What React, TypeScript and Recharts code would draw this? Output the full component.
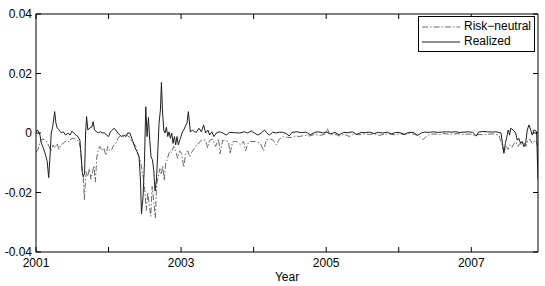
import { LineChart, Line, XAxis, YAxis } from 'recharts';

// [year, value] pairs
const realizedPoints: [number, number][] = [
  [2001.0, 0.0004], [2001.014, 0.001], [2001.028, 0.0008], [2001.055, -0.0007], [2001.073, -0.0034],
  [2001.1, -0.005], [2001.124, -0.0067], [2001.138, -0.008], [2001.155, -0.0097], [2001.175, -0.015],
  [2001.193, -0.008], [2001.21, 0.0], [2001.23, 0.002], [2001.257, 0.0072], [2001.275, 0.0033],
  [2001.293, 0.0017], [2001.32, 0.001], [2001.348, 0.0001], [2001.376, 0.0004], [2001.409, -0.0007],
  [2001.44, 0.0], [2001.468, -0.0007], [2001.495, 0.0006], [2001.523, 0.0], [2001.55, -0.0007],
  [2001.578, -0.0012], [2001.605, -0.0024], [2001.623, -0.008], [2001.637, -0.013], [2001.651, -0.0147],
  [2001.67, -0.0135], [2001.684, 0.0], [2001.697, 0.0055], [2001.715, 0.001], [2001.743, 0.0017],
  [2001.77, 0.002], [2001.788, 0.0038], [2001.807, 0.001], [2001.835, 0.0004], [2001.862, 0.0001],
  [2001.89, 0.0004], [2001.917, 0.0], [2001.945, 0.0001], [2001.972, -0.0007], [2002.0, -0.0012],
  [2002.027, 0.0004], [2002.055, 0.001], [2002.073, 0.0016], [2002.1, 0.001], [2002.128, 0.0],
  [2002.155, -0.0007], [2002.183, -0.0012], [2002.21, -0.0007], [2002.238, -0.0012], [2002.265, 0.0],
  [2002.293, 0.0], [2002.311, -0.0012], [2002.338, -0.003], [2002.366, -0.005], [2002.393, -0.0063],
  [2002.421, -0.008], [2002.44, -0.0158], [2002.454, -0.0272], [2002.476, -0.0214], [2002.495, -0.01],
  [2002.513, 0.0088], [2002.531, -0.0012], [2002.55, 0.0052], [2002.568, -0.0024], [2002.586, -0.008],
  [2002.605, -0.009], [2002.623, -0.0124], [2002.641, -0.0195], [2002.66, -0.0158], [2002.678, -0.0068],
  [2002.696, 0.0033], [2002.715, 0.0077], [2002.729, 0.017], [2002.743, 0.0077], [2002.761, 0.001],
  [2002.779, 0.0], [2002.798, 0.002], [2002.816, -0.0012], [2002.834, 0.0004], [2002.853, -0.0018],
  [2002.871, 0.0], [2002.889, -0.0035], [2002.908, -0.0012], [2002.926, -0.004], [2002.944, -0.0012],
  [2002.963, -0.004], [2002.981, -0.0024], [2002.999, -0.0012], [2003.018, 0.0004], [2003.036, 0.001],
  [2003.054, 0.002], [2003.081, 0.0033], [2003.1, 0.0072], [2003.128, 0.0003], [2003.155, 0.001],
  [2003.187, 0.0004], [2003.21, 0.0002], [2003.246, 0.0016], [2003.279, 0.0004], [2003.311, 0.0027],
  [2003.338, 0.0], [2003.37, 0.001], [2003.393, -0.0007], [2003.425, 0.0004], [2003.452, -0.0012],
  [2003.486, 0.0], [2003.531, 0.0004], [2003.568, 0.0001], [2003.623, -0.0007], [2003.668, 0.0002],
  [2003.737, 0.0001], [2003.806, 0.0], [2003.875, 0.0004], [2003.916, 0.0], [2003.967, 0.0007],
  [2004.012, 0.0], [2004.058, -0.0007], [2004.105, 0.0], [2004.15, 0.001], [2004.182, 0.0],
  [2004.219, -0.0007], [2004.264, 0.0003], [2004.311, 0.0], [2004.356, 0.0003], [2004.4, 0.0002],
  [2004.45, -0.0002], [2004.49, -0.001], [2004.53, 0.0002], [2004.6, 0.0004], [2004.66, 0.0001],
  [2004.72, 0.0003], [2004.78, -0.0006], [2004.84, 0.0002], [2004.9, 0.0004], [2004.96, 0.0],
  [2005.01, 0.0003], [2005.06, -0.0003], [2005.12, 0.0002], [2005.18, -0.0006], [2005.24, 0.0002],
  [2005.3, 0.0001], [2005.36, 0.0004], [2005.42, -0.0005], [2005.48, 0.0002], [2005.54, 0.0001],
  [2005.6, 0.0003], [2005.66, -0.0002], [2005.72, 0.0002], [2005.78, 0.0], [2005.84, 0.0003],
  [2005.9, -0.0003], [2005.96, 0.0002], [2006.02, 0.0001], [2006.08, -0.0004], [2006.14, 0.0002],
  [2006.2, 0.0002], [2006.26, -0.0008], [2006.31, 0.0], [2006.36, 0.0003], [2006.42, 0.0002],
  [2006.48, 0.0004], [2006.54, 0.0002], [2006.6, 0.0003], [2006.66, 0.0004], [2006.72, 0.0003],
  [2006.78, 0.0004], [2006.84, 0.0002], [2006.9, 0.0003], [2006.96, 0.0004], [2007.02, 0.0002],
  [2007.07, -0.0010], [2007.1, 0.0003], [2007.16, 0.0005], [2007.22, 0.0004], [2007.28, 0.0003],
  [2007.34, 0.0004], [2007.38, 0.0002], [2007.41, 0.0], [2007.43, -0.0035], [2007.45, -0.0068],
  [2007.47, -0.0035], [2007.488, -0.0016], [2007.51, 0.001], [2007.529, -0.0007], [2007.543, 0.0016],
  [2007.579, 0.001], [2007.612, 0.0], [2007.634, -0.0024], [2007.655, -0.0018], [2007.681, -0.0035],
  [2007.7, -0.0028], [2007.726, -0.0046], [2007.75, -0.0035], [2007.772, 0.001], [2007.795, 0.0027],
  [2007.82, 0.001], [2007.84, -0.0007], [2007.864, 0.001], [2007.9, 0.0005], [2007.92, -0.0155],
];

const riskNeutralPoints: [number, number][] = [
  [2001.0, -0.0065], [2001.028, -0.0055], [2001.055, -0.003], [2001.083, -0.002], [2001.124, -0.0022],
  [2001.151, -0.003], [2001.179, -0.0045], [2001.206, -0.006], [2001.234, -0.004], [2001.261, -0.005],
  [2001.289, -0.0035], [2001.316, -0.0055], [2001.344, -0.004], [2001.371, -0.0035], [2001.399, -0.003],
  [2001.426, -0.0025], [2001.454, -0.003], [2001.481, -0.002], [2001.509, -0.0018], [2001.536, -0.002],
  [2001.564, -0.0022], [2001.591, -0.003], [2001.612, -0.005], [2001.626, -0.009], [2001.64, -0.0135],
  [2001.653, -0.015], [2001.667, -0.0225], [2001.681, -0.016], [2001.695, -0.013], [2001.715, -0.0145],
  [2001.736, -0.012], [2001.757, -0.0155], [2001.777, -0.0135], [2001.798, -0.011], [2001.818, -0.0165],
  [2001.839, -0.008], [2001.86, -0.0055], [2001.88, -0.0045], [2001.908, -0.006], [2001.935, -0.005],
  [2001.963, -0.0075], [2001.99, -0.0045], [2002.018, -0.006], [2002.045, -0.0055], [2002.073, -0.004],
  [2002.1, -0.0035], [2002.128, -0.0018], [2002.155, -0.001], [2002.183, -0.0008], [2002.21, -0.0012],
  [2002.238, -0.0006], [2002.265, -0.001], [2002.293, -0.0015], [2002.32, -0.003], [2002.348, -0.0035],
  [2002.375, -0.0045], [2002.403, -0.007], [2002.431, -0.0085], [2002.458, -0.012], [2002.479, -0.015],
  [2002.499, -0.019], [2002.52, -0.026], [2002.541, -0.02], [2002.561, -0.024], [2002.582, -0.028],
  [2002.602, -0.018], [2002.623, -0.023], [2002.644, -0.0285], [2002.664, -0.017], [2002.685, -0.015],
  [2002.706, -0.012], [2002.726, -0.014], [2002.747, -0.011], [2002.768, -0.016], [2002.788, -0.01],
  [2002.809, -0.009], [2002.829, -0.007], [2002.85, -0.006], [2002.871, -0.0065], [2002.898, -0.0045],
  [2002.926, -0.006], [2002.953, -0.0085], [2002.981, -0.006], [2003.008, -0.007], [2003.036, -0.0115],
  [2003.063, -0.007], [2003.091, -0.006], [2003.118, -0.008], [2003.146, -0.0065], [2003.173, -0.0055],
  [2003.201, -0.0045], [2003.228, -0.004], [2003.256, -0.003], [2003.297, -0.0022], [2003.338, -0.0025],
  [2003.366, -0.005], [2003.393, -0.0025], [2003.435, -0.002], [2003.476, -0.0045], [2003.517, -0.002],
  [2003.538, -0.007], [2003.572, -0.0025], [2003.613, -0.0025], [2003.655, -0.003], [2003.675, -0.007],
  [2003.71, -0.003], [2003.765, -0.0028], [2003.82, -0.004], [2003.861, -0.0028], [2003.889, -0.006],
  [2003.93, -0.003], [2003.985, -0.0028], [2004.04, -0.003], [2004.095, -0.0035], [2004.136, -0.006],
  [2004.177, -0.0022], [2004.232, -0.002], [2004.274, -0.0025], [2004.315, -0.004], [2004.356, -0.002],
  [2004.411, -0.0012], [2004.466, -0.0015], [2004.521, -0.0015], [2004.576, -0.001], [2004.631, -0.0012],
  [2004.7, -0.0008], [2004.769, -0.001], [2004.838, -0.0005], [2004.906, -0.0008], [2004.975, -0.0005],
  [2005.017, 0.0015], [2005.044, -0.0005], [2005.113, -0.0003], [2005.182, -0.001], [2005.25, -0.0004],
  [2005.319, -0.0012], [2005.388, -0.0002], [2005.457, -0.0006], [2005.525, -0.0003], [2005.594, -0.0005],
  [2005.663, -0.0002], [2005.732, -0.0008], [2005.801, -0.0004], [2005.869, -0.0003], [2005.938, -0.0006],
  [2006.007, -0.0003], [2006.076, -0.0005], [2006.144, -0.0002], [2006.213, -0.0004], [2006.282, -0.001],
  [2006.337, -0.0022], [2006.392, -0.0008], [2006.447, -0.0004], [2006.502, -0.0003], [2006.557, -0.0005],
  [2006.626, -0.0002], [2006.695, -0.0004], [2006.763, -0.0003], [2006.832, -0.0002], [2006.901, -0.0005],
  [2006.97, -0.0003], [2007.039, -0.0008], [2007.107, -0.0005], [2007.176, -0.0006], [2007.245, -0.0004],
  [2007.314, -0.0003], [2007.382, -0.0008], [2007.424, -0.004], [2007.451, -0.0065], [2007.479, -0.0045],
  [2007.506, -0.0055], [2007.534, -0.004], [2007.561, -0.0048], [2007.589, -0.0035], [2007.616, -0.003],
  [2007.644, -0.0045], [2007.671, -0.0035], [2007.699, -0.004], [2007.726, -0.003], [2007.754, -0.0045],
  [2007.781, -0.0025], [2007.809, -0.002], [2007.836, -0.0035], [2007.864, -0.003], [2007.891, -0.0025],
  [2007.919, -0.0045],
];

const yearTicks = [2001, 2002, 2003, 2004, 2005, 2006, 2007];
const valueTicks = [-0.04, -0.02, 0, 0.02, 0.04];

const realized = realizedPoints.map(([t, v]) => ({ t, v }));
const riskNeutral = riskNeutralPoints.map(([t, v]) => ({ t, v }));

const FONT = '"Liberation Sans", Arial, Helvetica, sans-serif';
const RN_COLOR = '#6a6a6a';
const RL_COLOR = '#1e1e1e';
const RN_DASH = '6 2 1.5 2';

function fmtValue(v: number) {
  if (v === 0) return '0';
  return v.toFixed(2);
}

function LegendBox() {
  return (
    <div
      style={{
        position: 'absolute',
        left: 418,
        top: 16,
        border: '1px solid #000',
        background: '#fff',
        padding: '2px 3px 2px 2px',
        fontFamily: FONT,
        fontSize: 12,
        lineHeight: '15px',
        color: '#000',
      }}
    >
      {[
        { name: 'Risk\u2212neutral', color: RN_COLOR, dash: RN_DASH },
        { name: 'Realized', color: RL_COLOR, dash: undefined },
      ].map((it) => (
        <div key={it.name} style={{ display: 'flex', alignItems: 'center' }}>
          <svg width={40} height={10} style={{ marginRight: 3 }}>
            <line x1={1} y1={5} x2={39} y2={5} stroke={it.color} strokeWidth={1} strokeDasharray={it.dash} />
          </svg>
          <span>{it.name}</span>
        </div>
      ))}
    </div>
  );
}

export default function App() {
  return (
    <div style={{ position: 'absolute', left: 0, top: 0, width: 545, height: 286, background: '#fff' }}>
      <LineChart width={545} height={286} margin={{ top: 13, right: 6, bottom: 0, left: 0 }}>
        <XAxis
          xAxisId="b"
          type="number"
          dataKey="t"
          domain={[2001, 2007.92]}
          allowDataOverflow
          ticks={yearTicks}
          tickFormatter={(v: number) => (v % 2 === 1 ? String(v) : '')}
          tickSize={-5}
          tickMargin={11}
          height={34}
          stroke="#000"
          tick={{ fill: '#000', fontSize: 12, fontFamily: FONT }}
          label={{ value: 'Year', position: 'insideBottom', offset: 5, fill: '#000', fontSize: 12, fontFamily: FONT }}
        />
        <XAxis
          xAxisId="t"
          orientation="top"
          type="number"
          dataKey="t"
          domain={[2001, 2007.92]}
          allowDataOverflow
          ticks={yearTicks}
          tickFormatter={() => ''}
          tickSize={-5}
          height={1}
          stroke="#000"
        />
        <YAxis
          yAxisId="l"
          type="number"
          domain={[-0.04, 0.04]}
          allowDataOverflow
          ticks={valueTicks}
          tickFormatter={fmtValue}
          tickSize={-5}
          tickMargin={9}
          width={36}
          stroke="#000"
          tick={{ fill: '#000', fontSize: 12, fontFamily: FONT }}
        />
        <YAxis
          yAxisId="r"
          orientation="right"
          type="number"
          domain={[-0.04, 0.04]}
          allowDataOverflow
          ticks={valueTicks}
          tickFormatter={() => ''}
          tickSize={-5}
          width={1}
          stroke="#000"
        />
        <Line
          xAxisId="b"
          yAxisId="l"
          data={riskNeutral}
          dataKey="v"
          name="Risk-neutral"
          stroke={RN_COLOR}
          strokeWidth={1}
          strokeDasharray={RN_DASH}
          dot={false}
          type="linear"
          isAnimationActive={false}
        />
        <Line
          xAxisId="b"
          yAxisId="l"
          data={realized}
          dataKey="v"
          name="Realized"
          stroke={RL_COLOR}
          strokeWidth={1}
          dot={false}
          type="linear"
          isAnimationActive={false}
        />
      </LineChart>
      <LegendBox />
    </div>
  );
}
